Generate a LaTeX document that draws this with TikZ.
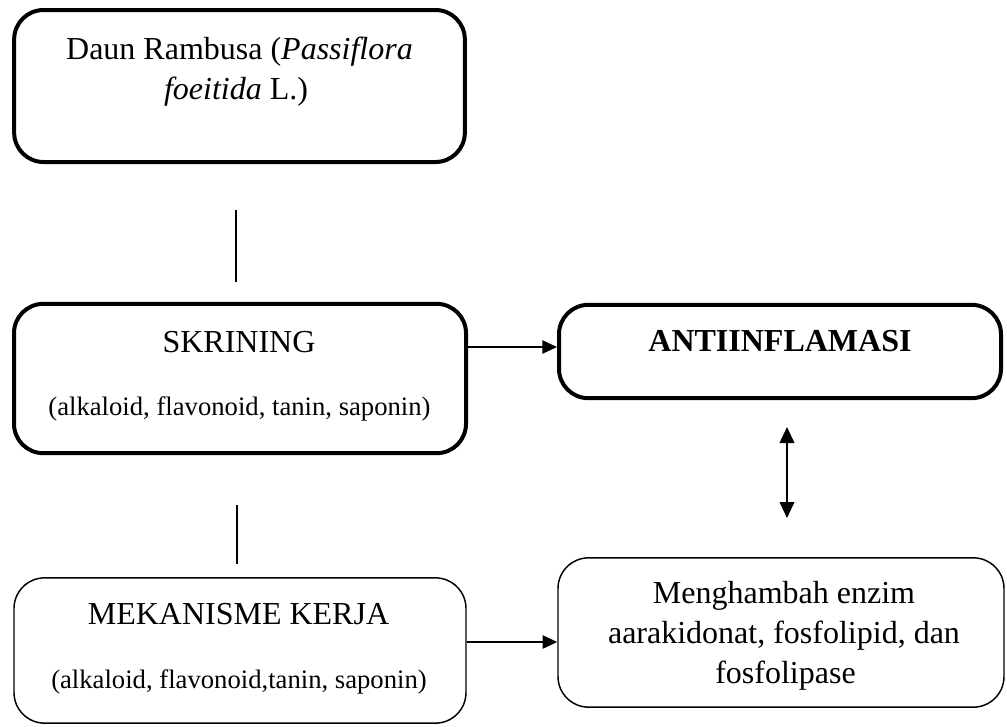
\documentclass[tikz,border=0pt]{standalone}
\usepackage{fontspec}
\setmainfont{Liberation Serif}
\usetikzlibrary{arrows.meta}
\begin{document}
\begin{tikzpicture}[x=0.75pt,y=-0.75pt,
  thickbox/.style={draw,line width=3pt,rounded corners=22pt,inner sep=0pt},
  thinbox/.style={draw,line width=1.1pt,rounded corners=23pt,inner sep=0pt},
  txt/.style={anchor=base,inner sep=0pt,font=\fontsize{24pt}{30pt}\selectfont},
  smalltxt/.style={anchor=base,inner sep=0pt,font=\fontsize{20pt}{25pt}\selectfont},
  conn/.style={line width=1.1pt,-{Triangle[length=11pt,width=10pt]}},
  dconn/.style={line width=1.3pt,{Triangle[length=12pt,width=11pt]}-{Triangle[length=12pt,width=11pt]}},
  plain/.style={line width=1.1pt}]
\useasboundingbox (0,0) rectangle (1007,726);
% boxes
\node[thickbox,minimum width=338pt,minimum height=114pt] (b1) at (239.5,86) {};
\node[thickbox,minimum width=339pt,minimum height=112pt] (b2) at (240,378.5) {};
\node[thickbox,minimum width=331.5pt,minimum height=70pt] (b3) at (780,351.5) {};
\node[thinbox,minimum width=339pt,minimum height=109pt] (b4) at (240,650.5) {};
\node[thinbox,minimum width=334.5pt,minimum height=112pt] (b5) at (781,632.5) {};
% texts
\node[txt] (t1a) at (239.5,59) {Daun Rambusa (\textit{Passiflora}};
\node[txt] (t1b) at (236,99) {\textit{foeitida} L.)};
\node[txt] (t2a) at (239,352) {SKRINING};
\node[smalltxt] (t2b) at (239.5,415) {(alkaloid, flavonoid, tanin, saponin)};
\node[txt] (t3) at (780,351) {\textbf{ANTIINFLAMASI}};
\node[txt] (t4a) at (238.5,624) {MEKANISME KERJA};
\node[smalltxt] (t4b) at (239,688) {(alkaloid, flavonoid,tanin, saponin)};
\node[txt] (t5a) at (784,603) {Menghambah enzim};
\node[txt] (t5b) at (784,643) {aarakidonat, fosfolipid, dan};
\node[txt] (t5c) at (785.5,683) {fosfolipase};
% coordinates
\coordinate (c1) at (0,347);
\coordinate (c2) at (0,642);
\coordinate (l1a) at (236,210);
\coordinate (l1b) at (236,282);
\coordinate (l2a) at (237,505);
\coordinate (l2b) at (237,564);
\coordinate (d1) at (787,427);
\coordinate (d2) at (787,518);
% connectors
\draw[plain] (l1a) -- (l1b);
\draw[plain] (l2a) -- (l2b);
\draw[conn] (b2.east |- c1) -- (b3.west |- c1);
\draw[conn] (b4.east |- c2) -- (b5.west |- c2);
\draw[dconn] (d1) -- (d2);
\end{tikzpicture}
\end{document}
